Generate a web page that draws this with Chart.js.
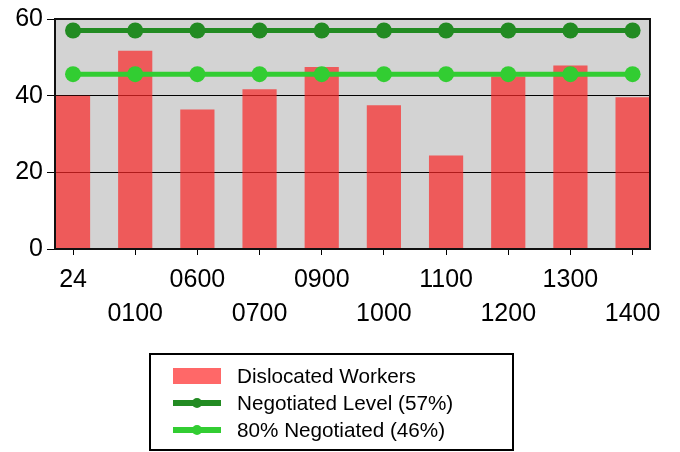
<!DOCTYPE html>
<html>
<head>
<meta charset="utf-8">
<script src="https://cdn.jsdelivr.net/npm/chart.js@4"></script>
<style>
  html, body { margin: 0; padding: 0; background: #fff; }
  #wrap { width: 680px; height: 452px; }
</style>
</head>
<body>
<div id="wrap"><canvas id="chart"></canvas></div>
<script>
const TIME_LABELS = ['24', '0100', '0600', '0700', '0900', '1000', '1100', '1200', '1300', '1400'];
const DISLOCATED = [40, 51.7, 36.4, 41.7, 47.5, 37.5, 24.4, 45, 47.9, 39.6];
const NEGOTIATED = [57, 57, 57, 57, 57, 57, 57, 57, 57, 57];
const NEGOTIATED_80 = [45.6, 45.6, 45.6, 45.6, 45.6, 45.6, 45.6, 45.6, 45.6, 45.6];
const Y_TICKS = [0, 20, 40, 60];

const FONT = "'Liberation Sans', Arial, sans-serif";
const BAR_COLOR = 'rgba(250, 38, 38, 0.7)';
const DARK_GREEN = '#228B22';
const LIME = '#32CD32';

const toPoints = arr => arr.map((v, i) => ({ x: i, y: v }));

// grey plot background + frame
const plotBox = {
  id: 'plotBox',
  beforeDraw: (chart) => {
    const { ctx, chartArea: a } = chart;
    ctx.save();
    ctx.fillStyle = '#d3d3d3';
    ctx.fillRect(a.left, a.top, a.right - a.left, a.bottom - a.top);
    ctx.restore();
  },
  afterDraw: (chart) => {
    const { ctx, chartArea: a } = chart;
    ctx.save();
    ctx.strokeStyle = '#111';
    ctx.lineWidth = 2;
    ctx.strokeRect(a.left, a.top, a.right - a.left, a.bottom - a.top);
    ctx.restore();
  }
};

// boxed single-column legend under the chart
const boxLegend = {
  id: 'boxLegend',
  afterDraw: (chart) => {
    const { ctx } = chart;
    ctx.save();
    ctx.strokeStyle = '#000';
    ctx.lineWidth = 2;
    ctx.strokeRect(150, 354, 363, 96);
    ctx.font = '20.7px ' + FONT;
    ctx.textBaseline = 'middle';
    ctx.fillStyle = '#000';
    chart.data.datasets.forEach((ds, i) => {
      const y = 376 + i * 27;
      if (ds.type === 'line') {
        ctx.strokeStyle = ds.borderColor;
        ctx.lineWidth = 6;
        ctx.beginPath();
        ctx.moveTo(173, y);
        ctx.lineTo(221, y);
        ctx.stroke();
        ctx.fillStyle = ds.borderColor;
        ctx.beginPath();
        ctx.arc(197, y, 5, 0, Math.PI * 2);
        ctx.fill();
      } else {
        ctx.fillStyle = '#ff6868';
        ctx.fillRect(173, y - 8, 48, 16);
      }
      ctx.fillStyle = '#000';
      ctx.fillText(ds.label, 237, y + 1);
    });
    ctx.restore();
  }
};

const config = {
  type: 'bar',
  data: {
    datasets: [
      {
        type: 'bar',
        label: 'Dislocated Workers',
        data: toPoints(DISLOCATED),
        backgroundColor: BAR_COLOR,
        borderWidth: 0,
        barPercentage: 0.55,
        categoryPercentage: 1,
        order: 2
      },
      {
        type: 'line',
        label: 'Negotiated Level (57%)',
        data: toPoints(NEGOTIATED),
        borderColor: DARK_GREEN,
        backgroundColor: DARK_GREEN,
        borderWidth: 5,
        pointRadius: 8,
        pointBorderWidth: 0,
        order: 1
      },
      {
        type: 'line',
        label: '80% Negotiated (46%)',
        data: toPoints(NEGOTIATED_80),
        borderColor: LIME,
        backgroundColor: LIME,
        borderWidth: 5,
        pointRadius: 8,
        pointBorderWidth: 0,
        order: 0
      }
    ]
  },
  options: {
    responsive: true,
    maintainAspectRatio: false,
    animation: false,
    layout: { padding: { left: 0, right: 30, top: 19, bottom: 123 } },
    plugins: {
      legend: { display: false },
      tooltip: { enabled: false }
    },
    scales: {
      x: {
        type: 'linear',
        min: -0.29,
        max: 9.28,
        offset: false,
        afterFit: (scale) => { scale.height = 80; },
        afterBuildTicks: (scale) => {
          scale.ticks = TIME_LABELS.map((l, i) => ({ value: i }));
        },
        grid: {
          offset: false,
          drawOnChartArea: false,
          color: '#000',
          tickLength: 6
        },
        border: { color: '#000', width: 2 },
        ticks: {
          color: '#000',
          autoSkip: false,
          maxRotation: 0,
          padding: 8,
          font: { family: FONT, size: 25, lineHeight: 1.36 },
          callback: (v) => {
            const l = TIME_LABELS[v];
            return v % 2 ? ['', l] : [l];
          }
        }
      },
      y: {
        min: 0,
        max: 60,
        afterFit: (scale) => { scale.width = 55; },
        afterBuildTicks: (scale) => {
          scale.ticks = Y_TICKS.map(v => ({ value: v }));
        },
        grid: {
          color: '#000',
          lineWidth: 1,
          tickLength: 8
        },
        border: { color: '#000', width: 2 },
        ticks: {
          color: '#000',
          padding: 4,
          font: { family: FONT, size: 25 }
        }
      }
    }
  },
  plugins: [plotBox, boxLegend]
};

const chart = new Chart(document.getElementById('chart'), config);
</script>
</body>
</html>
